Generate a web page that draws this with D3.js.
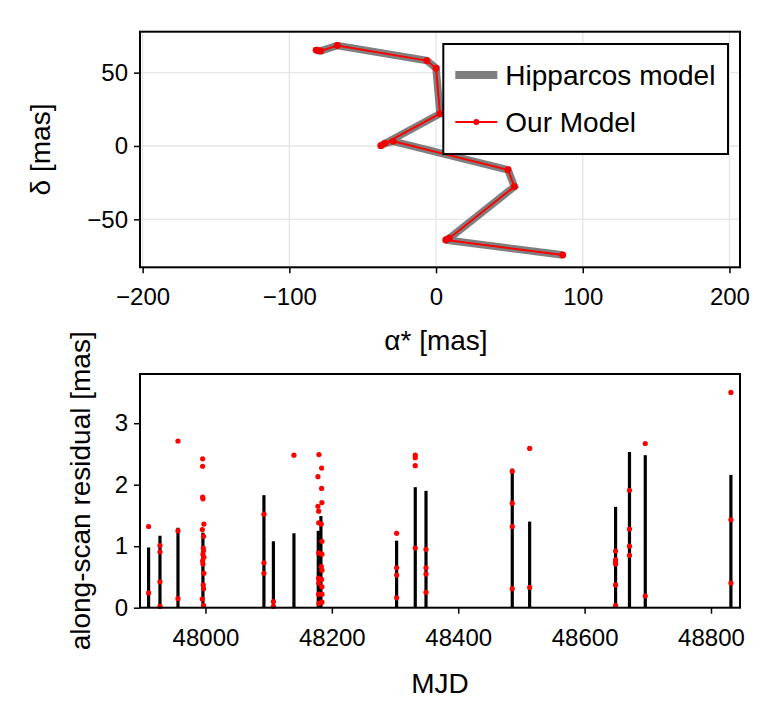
<!DOCTYPE html>
<html><head><meta charset="utf-8">
<script src="https://cdn.jsdelivr.net/npm/d3@7"></script>
<style>body{margin:0;background:#fff} text{font-family:"Liberation Sans",Arial,Helvetica,sans-serif;fill:#000}</style>
</head><body><svg id="c" width="772" height="726"></svg>
<script>
// ---- top panel data (sky path) ----
const pathRA  = [-81.8, -80.3, -78.6, -67.3, -6.3, 0.0, 2.7, -37.7, -34.8, -29.1, 49.0, 53.4, 9.1, 6.6, 86.4];
const pathDec = [65.4, 65.0, 64.8, 68.5, 58.2, 53.0, 22.0, 0.2, 1.8, 3.2, -16.2, -27.7, -62.9, -64.1, -74.3];
const xTicksTop = [-200, -100, 0, 100, 200];
const yTicksTop = [-50, 0, 50];
const legendLabels = ["Hipparcos model", "Our Model"];

// ---- bottom panel data (residuals) ----
const barMJD = [47910, 47928, 47956.5, 47996, 48092.5, 48107.5, 48140, 48178.5, 48182.7, 48302.5, 48332, 48349, 48485.5, 48513, 48649, 48671, 48696, 48831.5];
const barRes = [0.98, 1.17, 1.30, 1.22, 1.83, 1.08, 1.21, 1.25, 1.49, 1.09, 1.96, 1.90, 2.26, 1.40, 1.64, 2.53, 2.48, 2.16];
const ptMJD = [
  47910, 47910,
  47928, 47928, 47928, 47928,
  47956.5, 47956.5, 47956.5,
  47995.5, 47995.5, 47995.5, 47996, 47997.5, 47995, 47997, 47996.5, 47997, 47996, 47997.5, 47995.5, 47996, 47997.5, 47996.5, 47997, 47995, 47997,
  48092.5, 48092.5, 48092.5,
  48107.5, 48107.5,
  48140,
  48179.6, 48183.8, 48178, 48183.8, 48184.3, 48178, 48179.1, 48179.1, 48183.3, 48184.3, 48179.1, 48184.3, 48183.3, 48184.3, 48179.1, 48183.8, 48179.1, 48184.3, 48179.1, 48184.3, 48184.3, 48179.6,
  48302.5, 48302.5, 48302.5, 48302.5,
  48332, 48332, 48332, 48332,
  48349, 48349, 48349, 48349,
  48485.5, 48485.5, 48485.5, 48485.5,
  48513, 48513,
  48649, 48649, 48649, 48649, 48649, 48649,
  48671, 48671, 48671, 48671,
  48696, 48696,
  48831.5, 48831.5, 48831.5
];
const ptRes = [
  1.32, 0.24,
  1.01, 0.91, 0.42, 0.02,
  2.71, 1.25, 0.15,
  2.42, 2.30, 1.80, 1.77, 1.36, 1.27, 1.16, 0.97, 0.93, 0.87, 0.82, 0.76, 0.71, 0.56, 0.37, 0.31, 0.14, 0.04,
  1.52, 0.73, 0.56,
  0.10, 0.02,
  2.48,
  2.49, 2.27, 2.13, 1.94, 1.71, 1.65, 1.57, 1.38, 1.36, 1.08, 0.89, 0.87, 0.67, 0.61, 0.48, 0.46, 0.40, 0.34, 0.22, 0.22, 0.09, 0.07,
  1.21, 0.65, 0.53, 0.16,
  2.48, 2.44, 2.31, 0.97,
  0.95, 0.65, 0.55, 0.25,
  2.22, 1.70, 1.32, 0.31,
  2.59, 0.33,
  0.92, 0.78, 0.74, 0.71, 0.37, 0.04,
  1.91, 1.28, 1.00, 0.85,
  2.67, 0.19,
  3.50, 1.43, 0.40
];
const xTicksBot = [48000, 48200, 48400, 48600, 48800];
const yTicksBot = [0, 1, 2, 3];

const svg = d3.select("#c");
const FS = 24;   // tick labels
const LS = 28;   // axis labels and legend
const fmt = d3.format("");

// ================= TOP PANEL =================
const T = {l:140, r:740, t:31.7, b:267.3};
const xT = d3.scaleLinear().domain([-201.8, 207.2]).range([T.l, T.r]);
const yT = d3.scaleLinear().domain([-82.7, 77.9]).range([T.b, T.t]);

const gT = svg.append("g");
gT.selectAll("line.gx").data(xTicksTop).join("line")
  .attr("x1", d=>xT(d)).attr("x2", d=>xT(d)).attr("y1", T.t).attr("y2", T.b)
  .attr("stroke", "#e6e6e6").attr("stroke-width", 1.3);
gT.selectAll("line.gy").data(yTicksTop).join("line")
  .attr("y1", d=>yT(d)).attr("y2", d=>yT(d)).attr("x1", T.l).attr("x2", T.r)
  .attr("stroke", "#e6e6e6").attr("stroke-width", 1.3);

const pts = pathRA.map((x,i)=>[x, pathDec[i]]);
const line = d3.line().x(d=>xT(d[0])).y(d=>yT(d[1]));
gT.append("path").attr("d", line(pts)).attr("fill","none")
  .attr("stroke","#7f7f7f").attr("stroke-width",7.5).attr("stroke-linejoin","miter").attr("stroke-miterlimit",3);
gT.append("path").attr("d", line(pts)).attr("fill","none")
  .attr("stroke","#ff0000").attr("stroke-width",2);
gT.selectAll("circle").data(pts).join("circle")
  .attr("cx", d=>xT(d[0])).attr("cy", d=>yT(d[1])).attr("r", 3.4).attr("fill","#f00000");

const axTx = d3.axisBottom(xT).tickValues(xTicksTop).tickSize(6).tickPadding(15).tickFormat(fmt);
const gax = gT.append("g").attr("transform", `translate(0,${T.b})`).call(axTx);
const axTy = d3.axisLeft(yT).tickValues(yTicksTop).tickSize(6).tickPadding(6).tickFormat(fmt);
const gay = gT.append("g").attr("transform", `translate(${T.l},0)`).call(axTy);
[gax, gay].forEach(g=>{
  g.select(".domain").remove();
  g.selectAll(".tick line").attr("stroke","#000").attr("stroke-width",1.5);
  g.selectAll(".tick text").attr("font-size", FS).attr("font-family",'"Liberation Sans",Arial,sans-serif');
});
gT.append("rect").attr("x",T.l).attr("y",T.t).attr("width",T.r-T.l).attr("height",T.b-T.t)
  .attr("fill","none").attr("stroke","#000").attr("stroke-width",2);

// legend
const L = {x:443.3, y:44, w:284.7, h:110};
gT.append("rect").attr("x",L.x).attr("y",L.y).attr("width",L.w).attr("height",L.h)
  .attr("fill","#fff").attr("stroke","#000").attr("stroke-width",2);
gT.append("line").attr("x1",L.x+12).attr("x2",L.x+54).attr("y1",L.y+31).attr("y2",L.y+31)
  .attr("stroke","#7f7f7f").attr("stroke-width",8);
gT.append("line").attr("x1",L.x+12).attr("x2",L.x+54).attr("y1",L.y+78).attr("y2",L.y+78)
  .attr("stroke","#ff0000").attr("stroke-width",2);
gT.append("circle").attr("cx",L.x+33).attr("cy",L.y+78).attr("r",3).attr("fill","#f00");
gT.selectAll("text.leg").data(legendLabels).join("text").attr("class","leg")
  .attr("x", L.x+62).attr("y",(d,i)=>L.y+31+i*47).attr("dy","0.35em")
  .attr("font-size", LS).text(d=>d);

svg.append("text").attr("x", (T.l+T.r)/2 - 4).attr("y", 340).attr("dy","0.35em").attr("text-anchor","middle")
  .attr("font-size",LS).text("α* [mas]");
svg.append("text").attr("transform",`translate(40,${(T.t+T.b)/2}) rotate(-90)`).attr("dy","0.35em")
  .attr("text-anchor","middle").attr("font-size",LS).text("δ [mas]");

// ================= BOTTOM PANEL =================
const B = {l:140, r:740, t:374, b:607.7};
const xB = d3.scaleLinear().domain([47896.4, 48845.9]).range([B.l, B.r]);
const yB = d3.scaleLinear().domain([0, 3.80]).range([B.b, B.t]);
const gB = svg.append("g");
gB.selectAll("line.bar").data(barMJD).join("line").attr("class","bar")
  .attr("x1", d=>xB(d)).attr("x2", d=>xB(d)).attr("y1", yB(0)).attr("y2", (d,i)=>yB(barRes[i]))
  .attr("stroke","#000").attr("stroke-width",3.2);
gB.selectAll("circle").data(ptMJD).join("circle")
  .attr("cx", d=>xB(d)).attr("cy", (d,i)=>yB(ptRes[i])).attr("r", 2.6).attr("fill","#ff0000");

const axBx = d3.axisBottom(xB).tickValues(xTicksBot).tickSize(6).tickPadding(15).tickFormat(fmt);
const gbx = gB.append("g").attr("transform", `translate(0,${B.b})`).call(axBx);
const axBy = d3.axisLeft(yB).tickValues(yTicksBot).tickSize(6).tickPadding(6).tickFormat(fmt);
const gby = gB.append("g").attr("transform", `translate(${B.l},0)`).call(axBy);
[gbx, gby].forEach(g=>{
  g.select(".domain").remove();
  g.selectAll(".tick line").attr("stroke","#000").attr("stroke-width",1.5);
  g.selectAll(".tick text").attr("font-size", FS).attr("font-family",'"Liberation Sans",Arial,sans-serif');
});
gB.append("rect").attr("x",B.l).attr("y",B.t).attr("width",B.r-B.l).attr("height",B.b-B.t)
  .attr("fill","none").attr("stroke","#000").attr("stroke-width",2);

svg.append("text").attr("x", (B.l+B.r)/2).attr("y", 683).attr("dy","0.35em").attr("text-anchor","middle")
  .attr("font-size",LS).text("MJD");
svg.append("text").attr("transform",`translate(80,${(B.t+B.b)/2}) rotate(-90)`).attr("dy","0.35em")
  .attr("text-anchor","middle").attr("font-size",LS).text("along-scan residual [mas]");
</script></body></html>
